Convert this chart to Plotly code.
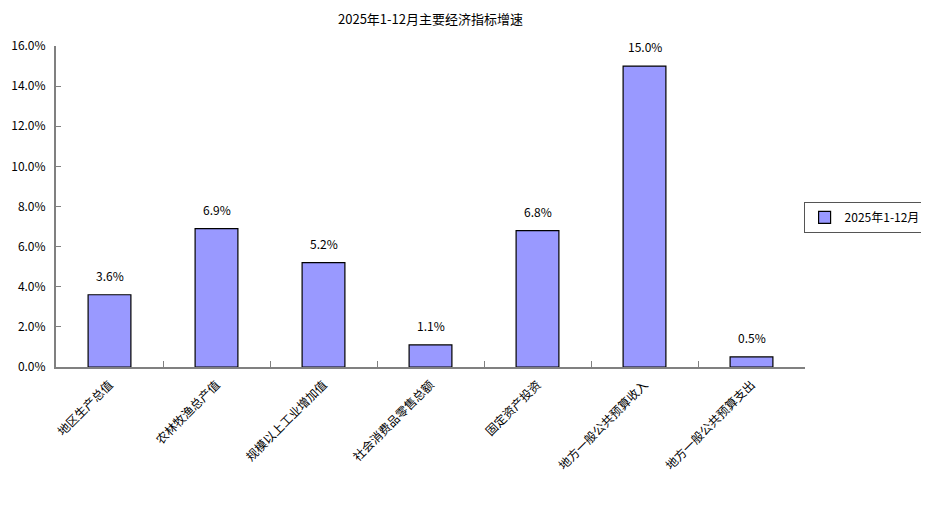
import plotly.graph_objects as go

categories = ['地区生产总值', '农林牧渔总产值', '规模以上工业增加值', '社会消费品零售总额',
              '固定资产投资', '地方一般公共预算收入', '地方一般公共预算支出']
growth = [3.6, 6.9, 5.2, 1.1, 6.8, 15.0, 0.5]
series_name = '2025年1-12月'
title_text = '2025年1-12月主要经济指标增速'
y_ticks = [0, 2, 4, 6, 8, 10, 12, 14, 16]

FONT = 'Noto Sans CJK SC'

fig = go.Figure()
fig.add_trace(go.Bar(
    x=categories, y=growth, name=series_name,
    marker=dict(color='#9999FF', line=dict(color='black', width=1.2)),
    width=0.4,
))

# value labels sit a little above each bar
for c, v in zip(categories, growth):
    fig.add_annotation(x=c, y=v, text=f'{v:.1f}%', showarrow=False,
                       yanchor='bottom', yshift=9,
                       font=dict(family=FONT, size=12, color='black'))

# page body has an 8px margin, so the figure is 8px smaller than the window
fig.update_layout(
    width=921, height=499,
    paper_bgcolor='white', plot_bgcolor='white',
    margin=dict(l=48, r=124, t=38, b=140, autoexpand=False),
    font=dict(family=FONT, size=12, color='black'),
    title=dict(text=title_text, x=0.5, xref='paper', y=0.978, yanchor='middle',
               font=dict(family=FONT, size=13, color='black')),
    showlegend=True,
    legend=dict(x=1.161, xanchor='right', y=0.466, yanchor='middle',
                bordercolor='#555555', borderwidth=1, itemwidth=30,
                tracegroupgap=0,
                font=dict(family=FONT, size=12)),
)

fig.update_xaxes(
    showline=True, linecolor='#808080', linewidth=2,
    ticks='inside', ticklen=6, tickcolor='#808080', tickson='boundaries',
    tickangle=-45, showgrid=False, ticklabelstandoff=4,
    tickfont=dict(family=FONT, size=12),
)
fig.update_yaxes(
    range=[0, 16], tickvals=y_ticks, ticktext=[f'{t:.1f}%' for t in y_ticks],
    showline=True, linecolor='#808080', linewidth=2,
    ticks='inside', ticklen=5, tickcolor='#808080',
    showgrid=False, zeroline=False, ticklabelstandoff=6,
    tickfont=dict(family=FONT, size=12),
)

fig.write_html('out.html')
